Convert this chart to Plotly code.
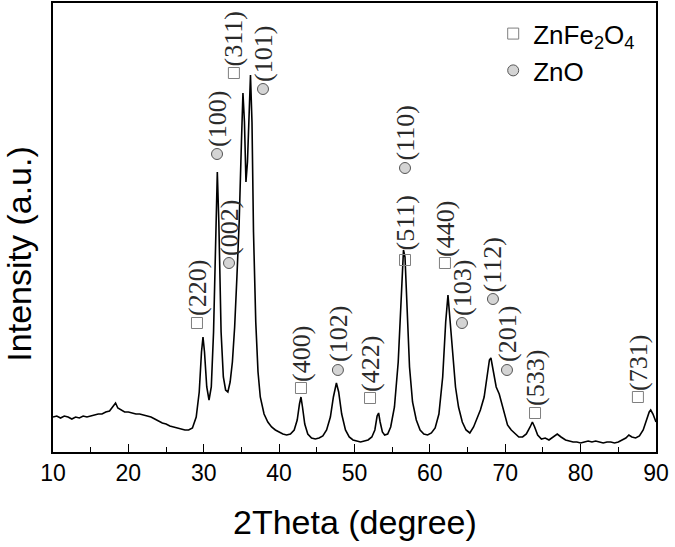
import plotly.graph_objects as go

# ---------------- data ----------------
two_theta = [10.0, 10.5, 11.0, 11.5, 12.0, 12.5, 13.0, 13.5, 14.0, 14.5, 15.0, 15.5, 16.0, 16.5,
             17.0, 17.5, 18.0, 18.3, 18.6, 19.0, 19.5, 20.0, 20.5, 21.0, 21.5, 22.0, 22.5, 23.0,
             23.5, 24.0, 24.5, 25.0, 25.5, 26.0, 26.5, 27.0, 27.5, 28.0, 28.5, 29.0, 29.4, 29.7,
             29.9, 30.1, 30.4, 30.7, 31.0, 31.3, 31.6, 31.8, 32.0, 32.3, 32.6, 32.9, 33.2, 33.5,
             33.8, 34.1, 34.4, 34.7, 35.0, 35.2, 35.4, 35.6, 35.8, 36.0, 36.2, 36.4, 36.6, 36.9,
             37.2, 37.5, 38.0, 38.5, 39.0, 39.5, 40.0, 40.5, 41.0, 41.5, 42.0, 42.4, 42.7, 42.9,
             43.1, 43.4, 43.8, 44.3, 44.8, 45.3, 45.8, 46.3, 46.8, 47.2, 47.6, 47.9, 48.3, 48.8,
             49.3, 49.8, 50.3, 50.8, 51.3, 51.8, 52.3, 52.7, 53.0, 53.2, 53.4, 53.7, 54.0, 54.4,
             54.8, 55.3, 55.8, 56.2, 56.5, 56.7, 57.0, 57.3, 57.7, 58.2, 58.7, 59.2, 59.7, 60.2,
             60.7, 61.2, 61.7, 62.1, 62.4, 62.7, 63.0, 63.4, 63.8, 64.3, 64.8, 65.3, 65.8, 66.3,
             66.7, 67.2, 67.6, 67.9, 68.1, 68.4, 68.8, 69.2, 69.5, 69.9, 70.3, 70.8, 71.3, 71.8,
             72.3, 72.8, 73.3, 73.6, 73.9, 74.3, 74.8, 75.3, 75.8, 76.3, 76.9, 77.4, 78.0, 78.5,
             79.0, 79.5, 80.0, 80.5, 81.0, 81.5, 82.0, 82.5, 83.0, 83.5, 84.0, 84.5, 85.0, 85.5,
             86.0, 86.4, 86.8, 87.3, 87.8, 88.3, 88.7, 89.1, 89.3, 89.6, 90.0]
intensity = [35, 36, 34, 36, 35, 33, 35, 34, 36, 35, 36, 37, 38, 38,
             40, 41, 46, 49, 44, 42, 40, 40, 39, 38, 38, 37, 36, 35,
             33, 31, 29, 28, 26, 25, 24, 23, 22, 22, 24, 35, 60, 100,
             115, 100, 65, 52, 65, 120, 230, 280, 230, 120, 75, 62, 60, 70,
             90, 125, 175, 230, 310, 359, 330, 270, 290, 340, 377, 330, 220, 130,
             80, 55, 38, 30, 25, 22, 20, 18, 17, 18, 22, 32, 48, 55,
             45, 28, 18, 14, 13, 14, 16, 22, 35, 55, 69, 60, 38, 22,
             15, 12, 11, 10, 11, 12, 15, 22, 36, 39, 30, 20, 17, 18,
             25, 45, 90, 160, 202, 195, 140, 85, 50, 32, 22, 18, 17, 19,
             24, 38, 75, 130, 157, 130, 95, 65, 45, 30, 22, 19, 25, 35,
             42, 55, 75, 92, 94, 80, 65, 58, 50, 38, 27, 22, 18, 15,
             15, 18, 25, 30, 25, 17, 13, 14, 12, 15, 18, 15, 12, 11,
             10, 10, 9, 10, 11, 10, 11, 10, 9, 10, 10, 9, 10, 12,
             14, 17, 15, 14, 16, 22, 32, 40, 42, 38, 30]

# reflection labels: (hkl), phase, 2theta, marker level, text base level
hkl_labels = ["(220)", "(100)", "(002)", "(311)", "(101)", "(400)", "(102)", "(422)",
              "(511)", "(110)", "(440)", "(103)", "(112)", "(201)", "(533)", "(731)"]
hkl_phase = ["ZnFe2O4", "ZnO", "ZnO", "ZnFe2O4", "ZnO", "ZnFe2O4", "ZnO", "ZnFe2O4",
             "ZnFe2O4", "ZnO", "ZnFe2O4", "ZnO", "ZnO", "ZnO", "ZnFe2O4", "ZnFe2O4"]
hkl_theta = [29.1, 31.76, 33.35, 34.0, 37.86, 42.9, 47.8, 52.06,
             56.7, 56.7, 62.0, 64.26, 68.37, 70.23, 73.95, 87.6]
hkl_mark = [129, 298, 189, 379, 363, 64, 82, 54, 192, 284, 189, 129, 153, 82, 39, 55]
hkl_text = [135, 304, 195, 385, 369, 69, 89, 59, 200, 290, 194, 135, 159, 89, 45, 60]

x_ticks = [10, 20, 30, 40, 50, 60, 70, 80, 90]

# ---------------- figure ----------------
fig = go.Figure()

fig.add_trace(go.Scatter(x=two_theta, y=intensity, mode="lines",
                         line=dict(color="black", width=1.6), showlegend=False,
                         hoverinfo="skip"))

sq_style = dict(symbol="square-open", size=11, color="#7f7f7f", line=dict(width=1, color="#7f7f7f"))
ci_style = dict(symbol="circle", size=11, color="#d4d4d4", line=dict(width=1, color="#555555"))

sx = [t for t, p in zip(hkl_theta, hkl_phase) if p == "ZnFe2O4"]
sy = [m for m, p in zip(hkl_mark, hkl_phase) if p == "ZnFe2O4"]
cx = [t for t, p in zip(hkl_theta, hkl_phase) if p == "ZnO"]
cy = [m for m, p in zip(hkl_mark, hkl_phase) if p == "ZnO"]

fig.add_trace(go.Scatter(x=sx, y=sy, mode="markers", marker=sq_style, hoverinfo="skip",
                         name="ZnFe<sub>2</sub>O<sub>4</sub>", showlegend=True))
fig.add_trace(go.Scatter(x=cx, y=cy, mode="markers", marker=ci_style, hoverinfo="skip",
                         name="ZnO", showlegend=True))

for lab, t, yb in zip(hkl_labels, hkl_theta, hkl_text):
    fig.add_annotation(x=t, y=yb, text=lab, textangle=-90, showarrow=False,
                       xanchor="center", yanchor="bottom", borderpad=0,
                       font=dict(family="Liberation Serif", size=26, color="#2a2a2a"))

# axis titles placed as paper annotations
fig.add_annotation(xref="paper", yref="paper", x=0.5, y=-0.155, text="2Theta (degree)",
                   showarrow=False, xanchor="center", yanchor="middle",
                   font=dict(family="Liberation Sans", size=34, color="black"))
fig.add_annotation(xref="paper", yref="paper", x=-0.056, y=0.44, text="Intensity (a.u.)",
                   textangle=-90, showarrow=False, xanchor="center", yanchor="middle",
                   font=dict(family="Liberation Sans", size=34, color="black"))

fig.update_layout(
    width=675, height=547,
    margin=dict(l=53, r=19, t=3, b=95, autoexpand=False),
    paper_bgcolor="white", plot_bgcolor="white",
    font=dict(family="Liberation Sans", color="black"),
    showlegend=True, hovermode=False,
    legend=dict(x=0.73, y=0.984, xanchor="left", yanchor="top",
                bgcolor="rgba(0,0,0,0)", font=dict(family="Liberation Sans", size=26, color="black"),
                itemsizing="trace"),
    xaxis=dict(range=[10, 90], tickmode="array", tickvals=x_ticks, automargin=False,
               ticks="inside", ticklen=8, tickwidth=1.3, tickcolor="black",
               minor=dict(ticks="inside", ticklen=5, tickwidth=1.3, tickcolor="black", dtick=5),
               showline=True, linecolor="black", linewidth=1.6, mirror=True,
               showgrid=False, zeroline=False,
               tickfont=dict(size=23, family="Liberation Sans")),
    yaxis=dict(range=[0, 449], showticklabels=False, ticks="", automargin=False,
               showline=True, linecolor="black", linewidth=1.6, mirror=True,
               showgrid=False, zeroline=False),
)

fig.write_html("out.html", config={"displayModeBar": False},
               post_script="document.body.style.margin='0px';")
